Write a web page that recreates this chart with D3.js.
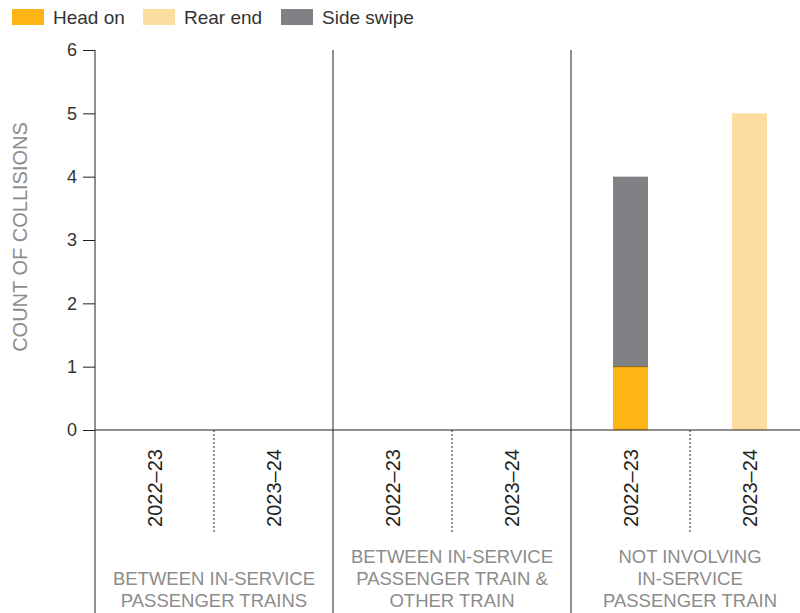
<!DOCTYPE html>
<html>
<head>
<meta charset="utf-8">
<script src="https://cdn.jsdelivr.net/npm/d3@7"></script>
<style>
  body { margin: 0; background: #fff; }
  svg { display: block; font-family: "Liberation Sans", Arial, sans-serif; }
</style>
</head>
<body>
<svg id="chart" width="800" height="613"></svg>
<script>
// Chart data
const groups = [
    ["BETWEEN IN-SERVICE", "PASSENGER TRAINS"],
    ["BETWEEN IN-SERVICE", "PASSENGER TRAIN &", "OTHER TRAIN"],
    ["NOT INVOLVING", "IN-SERVICE", "PASSENGER TRAIN"]
];
const years = ["2022–23", "2023–24"];
const seriesNames = ["Head on", "Rear end", "Side swipe"];
// one value per group/year, in order g1-22, g1-23, g2-22, g2-23, g3-22, g3-23
const headOn = [0, 0, 0, 0, 1, 0];
const rearEnd = [0, 0, 0, 0, 0, 5];
const sideSwipe = [0, 0, 0, 0, 3, 0];
const yTicks = [0, 1, 2, 3, 4, 5, 6];

const colors = {
    "Head on": "#fdb515",
    "Rear end": "#fddca0",
    "Side swipe": "#808184"
};
const axisColor = "#231f20";
const greyText = "#8c8c8c";

const svg = d3.select("#chart");
const plotLeft = 95, plotRight = 809, plotTop = 50, zeroY = 430;

// rows for the stack
const rows = [];
groups.forEach((gr, gi) => {
    years.forEach((yr, yi) => {
        const i = gi * years.length + yi;
        rows.push({
            key: gi + "|" + yr,
            group: gi,
            year: yr,
            "Head on": headOn[i],
            "Rear end": rearEnd[i],
            "Side swipe": sideSwipe[i]
        });
    });
});

const x = d3.scaleBand()
    .domain(rows.map(d => d.key))
    .range([plotLeft, plotRight])
    .padding(0);

const xGroup = d3.scaleBand()
    .domain(groups.map((g, i) => i))
    .range([plotLeft, plotRight])
    .padding(0);

const y = d3.scaleLinear()
    .domain([0, 6])
    .range([zeroY, plotTop]);

const barW = x.bandwidth() * 0.294;

// Bars
const stack = d3.stack().keys(seriesNames);
const layers = stack(rows);

svg.append("g")
    .selectAll("g")
    .data(layers)
    .join("g")
    .attr("fill", d => colors[d.key])
    .selectAll("rect")
    .data(d => d)
    .join("rect")
    .attr("x", d => x(d.data.key) + (x.bandwidth() - barW) / 2)
    .attr("y", d => y(d[1]))
    .attr("width", barW)
    .attr("height", d => y(d[0]) - y(d[1]));

// thin edge on top of head on segment
svg.append("g")
    .selectAll("line")
    .data(rows.filter(d => d["Head on"] > 0 && d["Side swipe"] > 0))
    .join("line")
    .attr("x1", d => x(d.key) + (x.bandwidth() - barW) / 2)
    .attr("x2", d => x(d.key) + (x.bandwidth() + barW) / 2)
    .attr("y1", d => y(d["Head on"]))
    .attr("y2", d => y(d["Head on"]))
    .attr("stroke", "#8a6414")
    .attr("stroke-width", 1);

// Y axis
const yAxis = d3.axisLeft(y)
    .tickValues(yTicks)
    .tickSize(12)
    .tickPadding(6)
    .tickFormat(d3.format("d"));

const yg = svg.append("g")
    .attr("transform", `translate(${plotLeft},0)`)
    .call(yAxis);
yg.select(".domain").remove();
yg.selectAll(".tick line").attr("stroke", axisColor);
yg.selectAll(".tick text")
    .attr("fill", "#333")
    .attr("font-size", "18px")
    .attr("font-family", "Liberation Sans, Arial, sans-serif");

// axis vertical line
svg.append("line")
    .attr("x1", plotLeft).attr("x2", plotLeft)
    .attr("y1", plotTop).attr("y2", 613)
    .attr("stroke", axisColor);

// zero line
svg.append("line")
    .attr("x1", plotLeft).attr("x2", 800)
    .attr("y1", zeroY).attr("y2", zeroY)
    .attr("stroke", axisColor);

// group separators
svg.append("g")
    .selectAll("line")
    .data(groups.slice(1).map((g, i) => i + 1))
    .join("line")
    .attr("x1", d => xGroup(d)).attr("x2", d => xGroup(d))
    .attr("y1", plotTop).attr("y2", 613)
    .attr("stroke", axisColor);

// dashed separators between years
svg.append("g")
    .selectAll("line")
    .data(groups.map((g, i) => i))
    .join("line")
    .attr("x1", d => xGroup(d) + xGroup.bandwidth() / 2)
    .attr("x2", d => xGroup(d) + xGroup.bandwidth() / 2)
    .attr("y1", zeroY).attr("y2", 534)
    .attr("stroke", axisColor)
    .attr("stroke-dasharray", "2,2");

// year labels
svg.append("g")
    .selectAll("text")
    .data(rows)
    .join("text")
    .attr("transform", d => `translate(${x(d.key) + x.bandwidth() / 2 + 7},488) rotate(-90)`)
    .attr("text-anchor", "middle")
    .attr("font-size", "20px")
    .attr("fill", "#231f20")
    .text(d => d.year);

// group labels (bottom aligned)
const lineH = 22;
const gl = svg.append("g");
groups.forEach((lines, gi) => {
    const cx = xGroup(gi) + xGroup.bandwidth() / 2;
    lines.forEach((ln, li) => {
        gl.append("text")
            .attr("x", cx)
            .attr("y", 607 - (lines.length - 1 - li) * lineH)
            .attr("text-anchor", "middle")
            .attr("font-size", "18.5px")
            .attr("fill", greyText)
            .text(ln);
    });
});

// y axis title
svg.append("text")
    .attr("transform", "translate(27,237) rotate(-90)")
    .attr("text-anchor", "middle")
    .attr("font-size", "20px")
    .attr("fill", greyText)
    .text("COUNT OF COLLISIONS");

// legend
const legendX = [12, 143, 281];
const legend = svg.append("g")
    .selectAll("g")
    .data(seriesNames)
    .join("g")
    .attr("transform", (d, i) => `translate(${legendX[i]},9)`);
legend.append("rect")
    .attr("width", 32).attr("height", 16)
    .attr("fill", d => colors[d]);
legend.append("text")
    .attr("x", 41).attr("y", 15)
    .attr("font-size", "19px")
    .attr("fill", "#333")
    .text(d => d);
</script>
</body>
</html>
